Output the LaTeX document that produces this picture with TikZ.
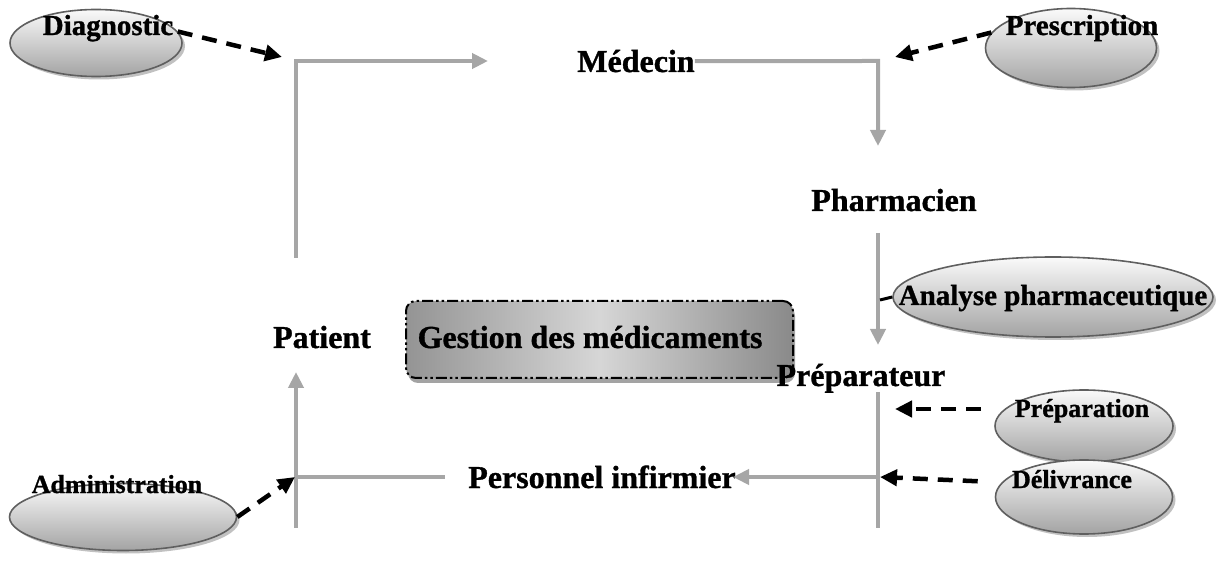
\documentclass[tikz,border=0pt]{standalone}
\usepackage{fontspec}
\setmainfont{Liberation Serif}[BoldFeatures={FakeBold=1}]
\usetikzlibrary{shapes.geometric,arrows.meta,shadows}
\definecolor{flowgray}{HTML}{A6A6A6}
\definecolor{rimgray}{HTML}{5F5F5F}

\begin{document}
\begin{tikzpicture}[x=1pt,y=-1pt,
  actor/.style={font=\fontsize{32}{36}\selectfont\bfseries, inner sep=0pt, anchor=base},
  tasktext/.style={font=\fontsize{29}{32}\selectfont\bfseries, inner sep=0pt, anchor=base},
  smalltask/.style={font=\fontsize{26}{30}\selectfont\bfseries, inner sep=0pt, anchor=base},
  task/.style={ellipse, draw=rimgray, line width=1.6pt, inner sep=0pt,
    top color=black!2, bottom color=black!36,
    drop shadow={shadow xshift=3pt, shadow yshift=-3pt, fill=black!30, opacity=0.8}},
  flow/.style={draw=flowgray, line width=4pt},
  flowarrow/.style={flow, -{Triangle[length=16pt,width=15pt]}},
  feed/.style={draw=black, line width=4.5pt, dash pattern=on 15pt off 10pt,
    -{Triangle[length=17pt,width=16pt]}},
  hub/.style={rounded corners=10pt, draw=black, line width=2pt,
    dash pattern=on 11pt off 3pt on 2.5pt off 3pt on 2.5pt off 3pt,
    left color=black!42, right color=black!46, middle color=black!16,
    drop shadow={shadow xshift=2pt, shadow yshift=-5pt, fill=black!45, opacity=0.8},
    minimum width=387pt, minimum height=77pt, inner sep=0pt}
]
\useasboundingbox (0,0) rectangle (1219,561);

% task ellipses
\node[task, minimum width=172pt, minimum height=67pt] (diag)  at (96,43)   {};
\node[task, minimum width=171pt, minimum height=79pt] (presc) at (1071,48) {};
\node[task, minimum width=320pt, minimum height=80pt] (anal)  at (1053,297) {};
\node[task, minimum width=178pt, minimum height=72pt] (prep)  at (1084,426) {};
\node[task, minimum width=177pt, minimum height=74pt] (deliv) at (1084,497) {};
\node[task, minimum width=227pt, minimum height=67pt] (admin) at (123,517) {};

% central box
\node[hub] (hubbox) at (599.5,339.5) {};
\node[actor] (gest) at (590,348) {Gestion des médicaments};

% actors
\node[actor] (med)  at (636,72)  {Médecin};
\node[actor] (ph)   at (894,211) {Pharmacien};
\node[actor] (pat)  at (322,348) {Patient};
\node[actor] (prpt) at (861,386) {Préparateur};
\node[actor] (inf)  at (602,488) {Personnel infirmier};

% task labels
\node[tasktext]  (tdiag)  at (108,35)   {Diagnostic};
\node[tasktext]  (tpresc) at (1082,35)  {Prescription};
\node[tasktext]  (tanal)  at (1053,305) {Analyse pharmaceutique};
\node[smalltask] (tprep)  at (1082,417) {Préparation};
\node[smalltask] (tdeliv) at (1072,488) {Délivrance};
\node[smalltask] (tadmin) at (117,493)  {Administration};

% corner and end points of the flow
\coordinate (lTop)    at (296,258);
\coordinate (lCorner) at (296,61);
\coordinate (toMed)   at (488,61);
\coordinate (rCorner) at (878,61);
\coordinate (toPh)    at (878,146);
\coordinate (phOut)   at (878,233);
\coordinate (toPrep)  at (878,345);
\coordinate (prTop)   at (878,392);
\coordinate (prBot)   at (878,528);
\coordinate (prMid)   at (878,477);
\coordinate (toInf)   at (733,477);
\coordinate (infL)    at (445,477);
\coordinate (lMid)    at (296,477);
\coordinate (lBot)    at (296,528);
\coordinate (toPat)   at (296,372);
\coordinate (analTick) at (880,300);

% flow of the medication circuit
\draw[flowarrow] (lTop) -- (lCorner) -- (toMed);
\draw[flowarrow] (med.east) -- (rCorner) -- (toPh);
\draw[flowarrow] (phOut) -- (toPrep);
\draw[flow] (prTop) -- (prBot);
\draw[flowarrow] (prMid) -- (toInf);
\draw[flow] (lMid) -- (infL);
\draw[flowarrow] (lBot) -- (toPat);

% task attachments
\draw[black, line width=3pt] (analTick) -- (anal.west);
\coordinate (diagEnd)  at (282,57);
\coordinate (prescEnd) at (895,57);
\coordinate (prepEnd)  at (895,409);
\coordinate (delivEnd) at (880,477);
\coordinate (adminEnd) at (295,477);
\draw[feed] (diag.8) -- (diagEnd);
\draw[feed] (presc.169) -- (prescEnd);
\draw[feed, shorten <=13pt] (prep.west |- prepEnd) -- (prepEnd);
\draw[feed, shorten <=17pt] ([yshift=15pt]deliv.west) -- (delivEnd);
\draw[feed] (admin.east) -- (adminEnd);
\end{tikzpicture}
\end{document}
